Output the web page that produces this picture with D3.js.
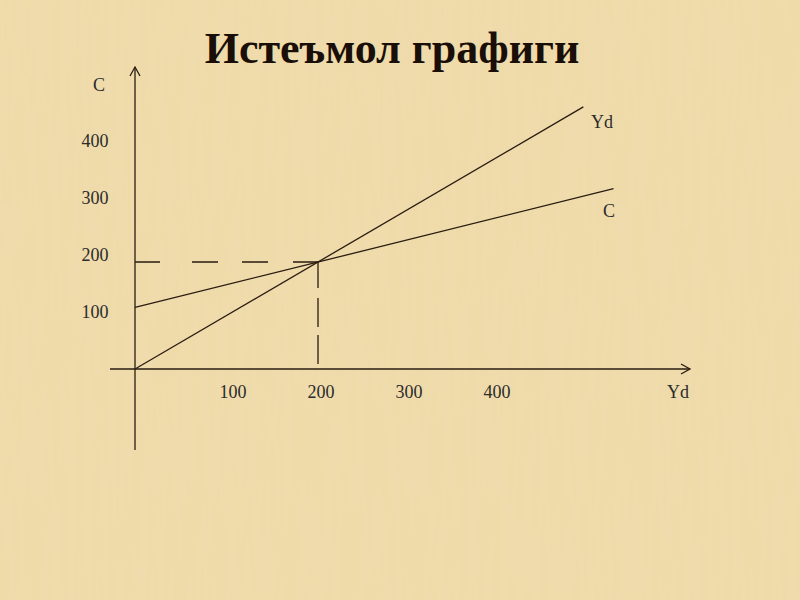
<!DOCTYPE html>
<html>
<head>
<meta charset="utf-8">
<script src="https://cdn.jsdelivr.net/npm/d3@7"></script>
<style>
  html, body { margin: 0; padding: 0; background: #EFDBAA; }
  svg { display: block; }
</style>
</head>
<body>
<svg id="chart" width="800" height="600"></svg>
<script>
// ---- data ----
const titleText = "Истеъмол графиги";
const xTicks = [100, 200, 300, 400];
const yTicks = [100, 200, 300, 400];
const xAxisLabel = "Yd";
const yAxisLabel = "C";
const ydLine = [[0, 0], [490, 490]];       // Yd = C (45° line)
const cLine = [[0, 115], [523, 337]];      // C = 115 + 0.425·Yd
const equilibrium = [200, 200];
const seriesLabels = ["Yd", "C"];

// ---- setup ----
const svg = d3.select("#chart");
const W = 800, H = 600;
const ink = "#2a1c10";

// background texture
const defs = svg.append("defs");
const f = defs.append("filter").attr("id", "paper").attr("x", 0).attr("y", 0).attr("width", 1).attr("height", 1);
f.append("feTurbulence").attr("type", "fractalNoise").attr("baseFrequency", "0.12 0.01").attr("numOctaves", 2).attr("seed", 3).attr("result", "n");
f.append("feColorMatrix").attr("in", "n").attr("type", "matrix")
  .attr("values", "0 0 0 0 0.88  0 0 0 0 0.74  0 0 0 0 0.45  0 0 0 0.3 0");
svg.append("rect").attr("width", W).attr("height", H).attr("fill", "#EFDAA9");
svg.append("rect").attr("width", W).attr("height", H).attr("filter", "url(#paper)");

// scales
const x = d3.scaleLinear().domain([0, 200]).range([135, 318]);
const y = d3.scaleLinear().domain([0, 200]).range([369, 262]);
// label positions on the slide (hand-placed spacing)
const xLab = d3.scaleLinear().domain([100, 400]).range([233, 497]);
const yLab = d3.scaleLinear().domain([100, 400]).range([312, 141]);

const font = "'Liberation Serif', 'Times New Roman', serif";

// title
svg.append("text").attr("x", 392).attr("y", 63).attr("text-anchor", "middle")
  .attr("font-family", font).attr("font-weight", "bold").attr("font-size", 44)
  .attr("fill", "#1a0f08").text(titleText);

// axes
const g = svg.append("g").attr("stroke", ink).attr("fill", "none").attr("stroke-width", 1.3);
g.append("line").attr("x1", x(0)).attr("x2", x(0)).attr("y1", 450).attr("y2", 67);
g.append("path").attr("d", `M${x(0) - 5},${76} L${x(0)},${67} L${x(0) + 5},${76}`);
g.append("line").attr("x1", 110).attr("x2", 690).attr("y1", y(0)).attr("y2", y(0));
g.append("path").attr("d", `M${681},${y(0) - 5} L${690},${y(0)} L${681},${y(0) + 5}`);

// lines
const line = d3.line().x(d => x(d[0])).y(d => y(d[1]));
g.append("path").attr("d", line(ydLine));
g.append("path").attr("d", line(cLine));

// dashed guides
g.append("path").attr("d", line([[0, equilibrium[1]], equilibrium]))
  .attr("stroke-dasharray", "25,32,26,24,26,25,25");
g.append("path").attr("d", line([equilibrium, [equilibrium[0], 7]]))
  .attr("stroke-dasharray", "26,10,29,8,29");

// tick labels
const tl = svg.append("g").attr("font-family", font).attr("font-size", 18).attr("fill", "#2b2b2b");
tl.selectAll(".xt").data(xTicks).join("text").attr("class", "xt")
  .attr("x", d => xLab(d)).attr("y", 398).attr("text-anchor", "middle").text(d => d);
tl.selectAll(".yt").data(yTicks).join("text").attr("class", "yt")
  .attr("x", 95).attr("y", d => yLab(d) + 6).attr("text-anchor", "middle").text(d => d);

// axis labels
tl.append("text").attr("x", 678).attr("y", 398).attr("text-anchor", "middle").text(xAxisLabel);
tl.append("text").attr("x", 99).attr("y", 91).attr("text-anchor", "middle").text(yAxisLabel);

// series labels
tl.append("text").attr("x", 602).attr("y", 128).attr("text-anchor", "middle").text(seriesLabels[0]);
tl.append("text").attr("x", 609).attr("y", 217).attr("text-anchor", "middle").text(seriesLabels[1]);
</script>
</body>
</html>
